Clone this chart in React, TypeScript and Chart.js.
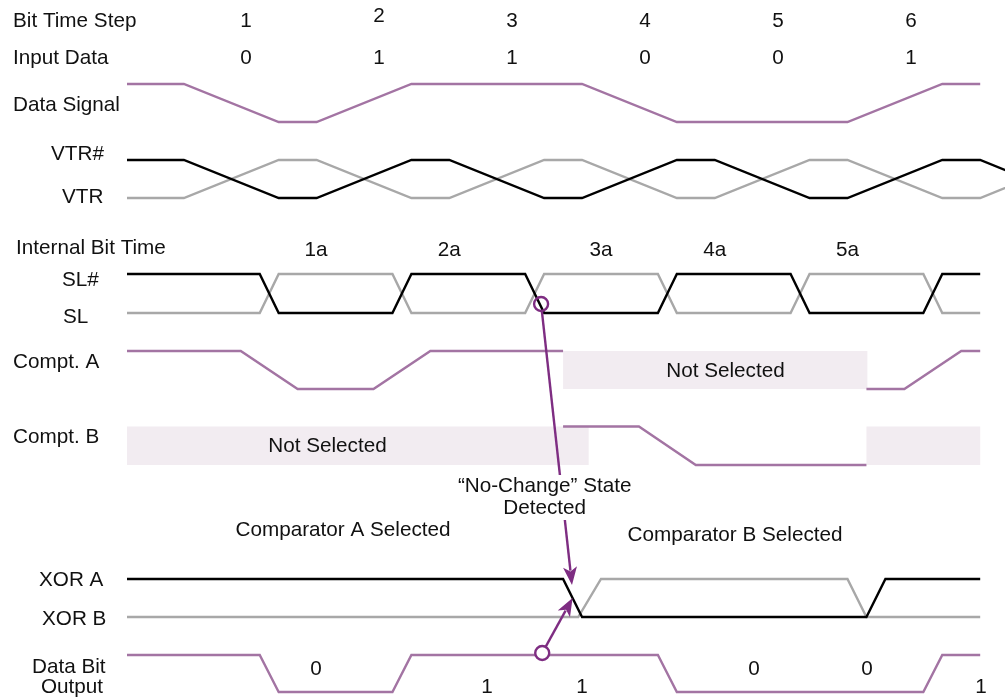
import React, { useEffect, useRef } from 'react';
import { Chart, registerables } from 'chart.js';

Chart.register(...registerables);

type Pt = [number, number | null];

// ---- Data (time in diagram time units, level 1 = high, 0 = low) ----
const BIT_TIME_STEPS = ['1', '2', '3', '4', '5', '6'];
const BIT_STEP_AT = [6.28, 13.29, 20.3, 27.32, 34.34, 41.35];
const INPUT_DATA = ['0', '1', '1', '0', '0', '1'];
const INTERNAL_BITS = ['1a', '2a', '3a', '4a', '5a'];
const INTERNAL_BIT_AT = [9.97, 17.0, 25.0, 31.0, 38.0];
const OUTPUT_BITS = ['0', '1', '1', '0', '0', '1'];
const OUTPUT_BIT_AT = [9.97, 18.99, 24.0, 33.07, 39.03, 45.04];

const DATA_SIGNAL: Pt[] = [[0, 1], [3, 1], [8, 0], [10, 0], [15, 1], [24, 1], [29, 0], [38, 0], [43, 1], [45, 1]];
const VTR_N: Pt[] = [[0, 1], [3, 1], [8, 0], [10, 0], [15, 1], [17, 1], [22, 0], [24, 0], [29, 1], [31, 1], [36, 0], [38, 0], [43, 1], [45, 1], [50, 0]];
const VTR: Pt[] = [[0, 0], [3, 0], [8, 1], [10, 1], [15, 0], [17, 0], [22, 1], [24, 1], [29, 0], [31, 0], [36, 1], [38, 1], [43, 0], [45, 0], [50, 1]];
const SL_N: Pt[] = [[0, 1], [7, 1], [8, 0], [14, 0], [15, 1], [21, 1], [22, 0], [28, 0], [29, 1], [35, 1], [36, 0], [42, 0], [43, 1], [45, 1]];
const SL: Pt[] = [[0, 0], [7, 0], [8, 1], [14, 1], [15, 0], [21, 0], [22, 1], [28, 1], [29, 0], [35, 0], [36, 1], [42, 1], [43, 0], [45, 0]];
const COMPT_A: Pt[] = [[0, 1], [6, 1], [9, 0], [13, 0], [16, 1], [23, 1], [31, null], [39, 0], [41, 0], [44, 1], [45, 1]];
const COMPT_B: Pt[] = [[23, 1], [27, 1], [30, 0], [39, 0]];
const XOR_A: Pt[] = [[0, 1], [23, 1], [24, 0], [39, 0], [40, 1], [45, 1]];
const XOR_B: Pt[] = [[0, 0], [23.8, 0], [25, 1], [38, 1], [39, 0], [45, 0]];
const DATA_OUT: Pt[] = [[0, 1], [7, 1], [8, 0], [14, 0], [15, 1], [28, 1], [29, 0], [42, 0], [43, 1], [45, 1]];

const COMPT_A_NOT_SELECTED: [number, number][] = [[23, 39.05]];
const COMPT_B_NOT_SELECTED: [number, number][] = [[0, 24.35], [39, 45]];

// "No-change" detection markers (times)
const DETECT_FROM_T = 21.84;
const DETECT_TO_T = 23.47;
const OUTPUT_MARK_T = 21.9;
const OUTPUT_TO_T = 23.5;

// ---- Layout ----
const T_UNIT_PX = 18.96;
const T_ORIGIN_PX = 127;
const W = 1005;
const H = 700;
const LANES: Record<string, { hi: number; lo: number }> = {
  data: { hi: 84, lo: 122 },
  vtr: { hi: 160, lo: 198 },
  sl: { hi: 274, lo: 313 },
  comptA: { hi: 351, lo: 389 },
  comptB: { hi: 426.5, lo: 465 },
  xor: { hi: 579, lo: 617 },
  out: { hi: 655, lo: 692 },
};

const PURPLE = '#a374a3';
const ARROW = '#7e2d82';
const GRAY = '#a8a8a8';
const BOX = '#f2ecf1';
const FONT = '20.7px "Liberation Sans", Arial, sans-serif';

function series(pts: Pt[], lane: string) {
  const l = LANES[lane];
  return pts.map(([t, v]) => ({ x: t, y: v === null ? null : v ? l.hi : l.lo }));
}

function ds(label: string, pts: Pt[], lane: string, color: string) {
  return {
    label,
    data: series(pts, lane),
    borderColor: color,
    borderWidth: 2.4,
    pointRadius: 0,
    tension: 0,
    spanGaps: false,
    fill: false,
  };
}

type TextItem = { text: string; x: number; y: number; align?: CanvasTextAlign; time?: boolean; bg?: boolean };

const LEFT_LABELS: TextItem[] = [
  { text: 'Bit Time Step', x: 13, y: 27 },
  { text: 'Input Data', x: 13, y: 64 },
  { text: 'Data Signal', x: 13, y: 111 },
  { text: 'VTR#', x: 51, y: 160 },
  { text: 'VTR', x: 62, y: 203 },
  { text: 'Internal Bit Time', x: 16, y: 254 },
  { text: 'SL#', x: 62, y: 286 },
  { text: 'SL', x: 63, y: 323 },
  { text: 'Compt. A', x: 13, y: 368 },
  { text: 'Compt. B', x: 13, y: 443 },
  { text: 'XOR A', x: 39, y: 586 },
  { text: 'XOR B', x: 42, y: 625 },
  { text: 'Data Bit', x: 32, y: 673 },
  { text: 'Output', x: 41, y: 693 },
];

const CENTER_LABELS: TextItem[] = [
  { text: 'Not Selected', x: 327.5, y: 452, align: 'center' },
  { text: 'Not Selected', x: 725.5, y: 377, align: 'center' },
  { text: 'Comparator A Selected', x: 343, y: 536, align: 'center' },
  { text: 'Comparator B Selected', x: 735, y: 541, align: 'center' },
  { text: '\u201CNo-Change\u201D State', x: 544.7, y: 492, align: 'center', bg: true },
  { text: 'Detected', x: 544.7, y: 514, align: 'center', bg: true },
];

function timeTexts(): TextItem[] {
  const out: TextItem[] = [];
  BIT_TIME_STEPS.forEach((s, i) => out.push({ text: s, x: BIT_STEP_AT[i], y: i === 1 ? 22 : 27, align: 'center', time: true }));
  INPUT_DATA.forEach((s, i) => out.push({ text: s, x: BIT_STEP_AT[i], y: 64, align: 'center', time: true }));
  INTERNAL_BITS.forEach((s, i) => out.push({ text: s, x: INTERNAL_BIT_AT[i], y: 256, align: 'center', time: true }));
  OUTPUT_BITS.forEach((s, i) => out.push({ text: s, x: OUTPUT_BIT_AT[i], y: s === '0' ? 675 : 693, align: 'center', time: true }));
  return out;
}

const overlayPlugin = {
  id: 'overlay',
  beforeDatasetsDraw(chart: any) {
    const ctx: CanvasRenderingContext2D = chart.ctx;
    const xs = chart.scales.x;
    const ys = chart.scales.y;
    ctx.save();
    ctx.fillStyle = BOX;
    const drawBoxes = (boxes: [number, number][], lane: string) => {
      const l = LANES[lane];
      boxes.forEach(([a, b]) => {
        const x0 = xs.getPixelForValue(a);
        const x1 = xs.getPixelForValue(b);
        const y0 = ys.getPixelForValue(l.hi);
        const y1 = ys.getPixelForValue(l.lo);
        ctx.fillRect(x0, y0, x1 - x0, y1 - y0);
      });
    };
    drawBoxes(COMPT_A_NOT_SELECTED, 'comptA');
    drawBoxes(COMPT_B_NOT_SELECTED, 'comptB');
    ctx.restore();
  },
  afterDatasetsDraw(chart: any) {
    const ctx: CanvasRenderingContext2D = chart.ctx;
    const xs = chart.scales.x;
    const ys = chart.scales.y;
    ctx.save();

    const arrow = (cx: number, cy: number, tx: number, ty: number, r: number, fillCircle: boolean) => {
      const dx = tx - cx;
      const dy = ty - cy;
      const len = Math.hypot(dx, dy);
      const ux = dx / len;
      const uy = dy / len;
      const headLen = 18;
      const headW = 7;
      ctx.strokeStyle = ARROW;
      ctx.lineWidth = 2.4;
      ctx.beginPath();
      ctx.moveTo(cx + ux * r, cy + uy * r);
      ctx.lineTo(tx - ux * headLen * 0.8, ty - uy * headLen * 0.8);
      ctx.stroke();
      ctx.fillStyle = ARROW;
      ctx.beginPath();
      ctx.moveTo(tx, ty);
      ctx.lineTo(tx - ux * headLen - uy * headW, ty - uy * headLen + ux * headW);
      ctx.lineTo(tx - ux * headLen * 0.75, ty - uy * headLen * 0.75);
      ctx.lineTo(tx - ux * headLen + uy * headW, ty - uy * headLen - ux * headW);
      ctx.closePath();
      ctx.fill();
      ctx.beginPath();
      ctx.arc(cx, cy, r, 0, Math.PI * 2);
      if (fillCircle) {
        ctx.fillStyle = '#ffffff';
        ctx.fill();
      }
      ctx.stroke();
    };
    arrow(xs.getPixelForValue(DETECT_FROM_T), ys.getPixelForValue(304), xs.getPixelForValue(DETECT_TO_T), ys.getPixelForValue(585), 7, false);
    arrow(xs.getPixelForValue(OUTPUT_MARK_T), ys.getPixelForValue(653), xs.getPixelForValue(OUTPUT_TO_T), ys.getPixelForValue(598), 7, true);

    ctx.font = FONT;
    ctx.textBaseline = 'alphabetic';
    const all = [...LEFT_LABELS, ...CENTER_LABELS, ...timeTexts()];
    all.forEach((it) => {
      const px = it.time ? xs.getPixelForValue(it.x) : it.x;
      const py = ys.getPixelForValue(it.y);
      ctx.textAlign = it.align || 'left';
      if (it.bg) {
        const w = ctx.measureText(it.text).width;
        ctx.fillStyle = '#ffffff';
        ctx.fillRect(px - w / 2 - 3, py - 17, w + 6, 23);
      }
      ctx.fillStyle = '#111111';
      ctx.fillText(it.text, px, py);
    });
    ctx.restore();
  },
};

export default function App() {
  const ref = useRef<HTMLCanvasElement | null>(null);
  useEffect(() => {
    document.body.style.margin = '0';
    if (!ref.current) return;
    const chart = new Chart(ref.current, {
      type: 'line',
      data: {
        datasets: [
          ds('Data Signal', DATA_SIGNAL, 'data', PURPLE),
          ds('VTR#', VTR_N, 'vtr', '#000000'),
          ds('VTR', VTR, 'vtr', GRAY),
          ds('SL#', SL_N, 'sl', '#000000'),
          ds('SL', SL, 'sl', GRAY),
          ds('Compt. A', COMPT_A, 'comptA', PURPLE),
          ds('Compt. B', COMPT_B, 'comptB', PURPLE),
          ds('XOR A', XOR_A, 'xor', '#000000'),
          ds('XOR B', XOR_B, 'xor', GRAY),
          ds('Data Bit Output', DATA_OUT, 'out', PURPLE),
        ] as any,
      },
      options: {
        responsive: false,
        animation: false,
        layout: { padding: 0 },
        plugins: { legend: { display: false }, tooltip: { enabled: false } },
        events: [],
        scales: {
          x: {
            type: 'linear',
            display: false,
            min: -T_ORIGIN_PX / T_UNIT_PX,
            max: (W - T_ORIGIN_PX) / T_UNIT_PX,
          },
          y: { type: 'linear', display: false, min: 0, max: H, reverse: true },
        },
      },
      plugins: [overlayPlugin],
    });
    return () => chart.destroy();
  }, []);
  return (
    <div style={{ width: W, height: H, background: '#ffffff' }}>
      <canvas ref={ref} width={W} height={H} style={{ display: 'block', width: W, height: H }} />
    </div>
  );
}
